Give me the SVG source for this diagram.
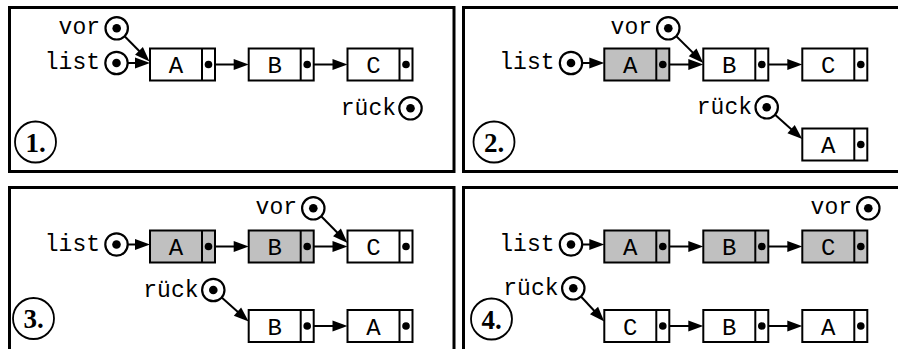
<svg xmlns="http://www.w3.org/2000/svg" width="898" height="349" viewBox="0 0 898 349">
  <style>
    .frame { fill: none; stroke: #000; stroke-width: 3; }
    .cell { fill: #fff; stroke: #000; stroke-width: 2; }
    .cell.done { fill: #c0c0c0; }
    .div { stroke: #000; stroke-width: 2; }
    .dot { fill: #000; }
    .ptr { fill: #fff; stroke: #000; stroke-width: 2.2; }
    .arrow { fill: none; stroke: #000; stroke-width: 2; marker-end: url(#head); }
    .tt { font-family: "Liberation Mono", "DejaVu Sans Mono", monospace; font-size: 23px; fill: #000; }
    .key { text-anchor: end; }
    .val { text-anchor: middle; font-size: 24px; }
    .step { fill: none; stroke: #000; stroke-width: 1.8; }
    .num { font-family: "Liberation Serif", "DejaVu Serif", serif; font-weight: bold; font-size: 27px; text-anchor: middle; fill: #000; }
  </style>
  <defs>
    <marker id="head" markerUnits="userSpaceOnUse" markerWidth="15" markerHeight="11" refX="7" refY="5.5" orient="auto" overflow="visible">
      <path d="M0,0 L15,5.5 L0,11 z" fill="#000"/>
    </marker>
    <!-- list element: value cell + pointer cell -->
    <g id="node">
      <rect class="cell" x="0" y="0" width="65" height="32"/>
      <line class="div" x1="52" y1="0" x2="52" y2="32"/>
      <circle class="dot" cx="58.5" cy="16" r="3.8"/>
    </g>
    <g id="nodeGray">
      <rect class="cell done" x="0" y="0" width="65" height="32"/>
      <line class="div" x1="52" y1="0" x2="52" y2="32"/>
      <circle class="dot" cx="58.5" cy="16" r="3.8"/>
    </g>
    <!-- pointer variable -->
    <g id="ptr">
      <circle class="ptr" cx="0" cy="0" r="11.2"/>
      <circle class="dot" cx="0" cy="0" r="4.3"/>
    </g>
  </defs>

  <!-- panel frames -->
  <g id="frames">
    <rect class="frame" x="9.5" y="7.5" width="444.5" height="164"/>
    <rect class="frame" x="463.5" y="7.5" width="440" height="164"/>
    <rect class="frame" x="9.5" y="187.5" width="444.5" height="170"/>
    <rect class="frame" x="463.5" y="187.5" width="440" height="170"/>
  </g>

  <!-- connectors -->
  <g id="connectors">
    <!-- step 1 -->
    <line class="arrow" x1="116.5" y1="63" x2="142" y2="63"/>
    <line class="arrow" x1="116.7" y1="28.3" x2="143.9" y2="55.8"/>
    <line class="arrow" x1="208.5" y1="64.5" x2="240.7" y2="64.5"/>
    <line class="arrow" x1="307.2" y1="64.5" x2="339.5" y2="64.5"/>
    <!-- step 2 -->
    <line class="arrow" x1="571" y1="63" x2="596.3" y2="63"/>
    <line class="arrow" x1="662.8" y1="64.5" x2="695.3" y2="64.5"/>
    <line class="arrow" x1="668.3" y1="28.3" x2="697.6" y2="57.4"/>
    <line class="arrow" x1="761.8" y1="64.5" x2="794.3" y2="64.5"/>
    <line class="arrow" x1="766.7" y1="107.3" x2="796.3" y2="133.7"/>
    <!-- step 3 -->
    <line class="arrow" x1="116.5" y1="244.5" x2="142" y2="244.5"/>
    <line class="arrow" x1="208.5" y1="246.5" x2="240.7" y2="246.5"/>
    <line class="arrow" x1="307.2" y1="246.5" x2="339.5" y2="246.5"/>
    <line class="arrow" x1="313.3" y1="208.3" x2="341.9" y2="237.3"/>
    <line class="arrow" x1="213.3" y1="290" x2="242.7" y2="316.2"/>
    <line class="arrow" x1="307.2" y1="326" x2="339.5" y2="326"/>
    <!-- step 4 -->
    <line class="arrow" x1="571" y1="244.5" x2="596.3" y2="244.5"/>
    <line class="arrow" x1="662.8" y1="246.5" x2="695.3" y2="246.5"/>
    <line class="arrow" x1="761.8" y1="246.5" x2="794.3" y2="246.5"/>
    <line class="arrow" x1="573.3" y1="288.3" x2="598.8" y2="315.7"/>
    <line class="arrow" x1="662.8" y1="326" x2="695.3" y2="326"/>
    <line class="arrow" x1="761.8" y1="326" x2="794.3" y2="326"/>
  </g>

  <!-- step 1 -->
  <g id="p1-A"><use href="#node" x="150" y="48.5"/><text class="tt val" x="176" y="73">A</text></g>
  <g id="p1-B"><use href="#node" x="248.7" y="48.5"/><text class="tt val" x="274.7" y="73">B</text></g>
  <g id="p1-C"><use href="#node" x="347.5" y="48.5"/><text class="tt val" x="373.5" y="73">C</text></g>
  <g id="p1-vor"><use href="#ptr" x="116.7" y="28.3"/><text class="tt key" x="100" y="34">vor</text></g>
  <g id="p1-list"><use href="#ptr" x="116.5" y="63"/><text class="tt key" x="100" y="69">list</text></g>
  <g id="p1-rueck"><use href="#ptr" x="410.5" y="108.3"/><text class="tt key" x="396" y="114.5">rück</text></g>
  <g id="p1-step"><circle class="step" cx="35.5" cy="142" r="20.5"/><text class="num" x="35.5" y="151.5">1.</text></g>

  <!-- step 2 -->
  <g id="p2-A"><use href="#nodeGray" x="604.3" y="48.5"/><text class="tt val" x="630.3" y="73">A</text></g>
  <g id="p2-B"><use href="#node" x="703.3" y="48.5"/><text class="tt val" x="729.3" y="73">B</text></g>
  <g id="p2-C"><use href="#node" x="802.3" y="48.5"/><text class="tt val" x="828.3" y="73">C</text></g>
  <g id="p2-A2"><use href="#node" x="802.3" y="128.5"/><text class="tt val" x="828.3" y="153">A</text></g>
  <g id="p2-vor"><use href="#ptr" x="668.3" y="28.3"/><text class="tt key" x="652" y="34">vor</text></g>
  <g id="p2-list"><use href="#ptr" x="571" y="63"/><text class="tt key" x="554.5" y="69">list</text></g>
  <g id="p2-rueck"><use href="#ptr" x="766.7" y="107.3"/><text class="tt key" x="752" y="113.5">rück</text></g>
  <g id="p2-step"><circle class="step" cx="494" cy="142" r="20.5"/><text class="num" x="494" y="151.5">2.</text></g>

  <!-- step 3 -->
  <g id="p3-A"><use href="#nodeGray" x="150" y="230.5"/><text class="tt val" x="176" y="255">A</text></g>
  <g id="p3-B"><use href="#nodeGray" x="248.7" y="230.5"/><text class="tt val" x="274.7" y="255">B</text></g>
  <g id="p3-C"><use href="#node" x="347.5" y="230.5"/><text class="tt val" x="373.5" y="255">C</text></g>
  <g id="p3-B2"><use href="#node" x="248.7" y="310"/><text class="tt val" x="274.7" y="334.5">B</text></g>
  <g id="p3-A2"><use href="#node" x="347.5" y="310"/><text class="tt val" x="373.5" y="334.5">A</text></g>
  <g id="p3-vor"><use href="#ptr" x="313.3" y="208.3"/><text class="tt key" x="297" y="214">vor</text></g>
  <g id="p3-list"><use href="#ptr" x="116.5" y="244.5"/><text class="tt key" x="100" y="250.5">list</text></g>
  <g id="p3-rueck"><use href="#ptr" x="213.3" y="290"/><text class="tt key" x="198.5" y="296.5">rück</text></g>
  <g id="p3-step"><circle class="step" cx="33.5" cy="318.5" r="20.5"/><text class="num" x="33.5" y="328">3.</text></g>

  <!-- step 4 -->
  <g id="p4-A"><use href="#nodeGray" x="604.3" y="230.5"/><text class="tt val" x="630.3" y="255">A</text></g>
  <g id="p4-B"><use href="#nodeGray" x="703.3" y="230.5"/><text class="tt val" x="729.3" y="255">B</text></g>
  <g id="p4-C"><use href="#nodeGray" x="802.3" y="230.5"/><text class="tt val" x="828.3" y="255">C</text></g>
  <g id="p4-C2"><use href="#node" x="604.3" y="310"/><text class="tt val" x="630.3" y="334.5">C</text></g>
  <g id="p4-B2"><use href="#node" x="703.3" y="310"/><text class="tt val" x="729.3" y="334.5">B</text></g>
  <g id="p4-A2"><use href="#node" x="802.3" y="310"/><text class="tt val" x="828.3" y="334.5">A</text></g>
  <g id="p4-vor"><use href="#ptr" x="868.3" y="208.3"/><text class="tt key" x="852" y="214">vor</text></g>
  <g id="p4-list"><use href="#ptr" x="571" y="244.5"/><text class="tt key" x="554.5" y="250.5">list</text></g>
  <g id="p4-rueck"><use href="#ptr" x="573.3" y="288.3"/><text class="tt key" x="558.5" y="294.5">rück</text></g>
  <g id="p4-step"><circle class="step" cx="491.5" cy="319" r="20.5"/><text class="num" x="491.5" y="328.5">4.</text></g>
</svg>
